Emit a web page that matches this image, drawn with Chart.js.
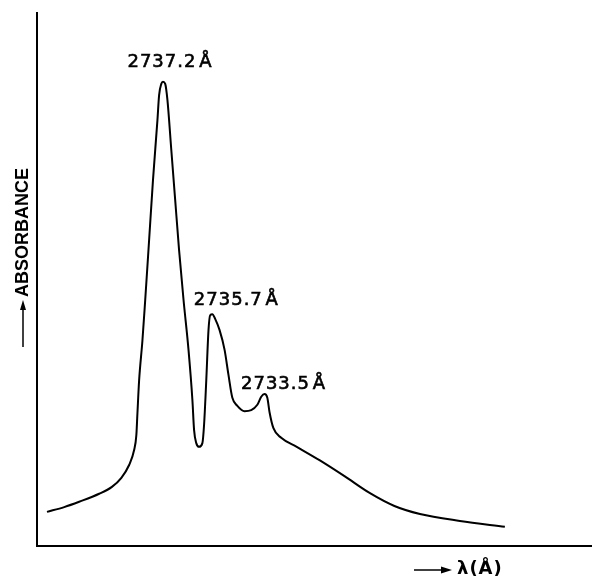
<!DOCTYPE html>
<html>
<head>
<meta charset="utf-8">
<script src="https://cdn.jsdelivr.net/npm/chart.js@4/dist/chart.umd.min.js"></script>
<style>
  html, body { margin: 0; padding: 0; background: #fff; }
  #spectrum { display: block; }
</style>
</head>
<body>
<canvas id="spectrum" width="592" height="579"></canvas>
<script>
// ── Data (arbitrary units, 0–100 on both axes) ──
const positions = [
  1.8, 4.9, 7.6, 11.2, 13.5, 15.2, 16.6, 17.5, 17.9, 18.1,
  18.4, 19.0, 19.5, 20.2, 20.9, 21.7, 22.0, 22.4, 22.7, 23.1,
  23.5, 24.2, 24.9, 25.6, 26.4, 27.3, 28.0, 28.3, 28.7, 29.2,
  29.8, 30.1, 30.5, 30.9, 31.2, 31.6, 32.1, 32.9, 33.8, 34.5,
  35.2, 36.1, 37.4, 38.6, 39.7, 40.4, 41.0, 41.5, 41.9, 42.6,
  44.0, 46.8, 50.9, 55.4, 60.0, 64.4, 69.0, 76.2, 84.3
];
const absorbance = [
  6.4, 7.3, 8.3, 9.8, 11.1, 12.8, 15.2, 18.0, 20.8, 25.0,
  31.1, 38.6, 46.2, 57.4, 68.7, 79.9, 84.6, 86.7, 87.1, 86.7,
  83.7, 74.3, 64.9, 55.5, 46.2, 36.8, 27.4, 21.8, 19.3, 18.6,
  19.3, 22.7, 31.1, 40.5, 43.3, 43.5, 42.6, 40.5, 36.8, 32.1,
  27.8, 26.3, 25.3, 25.5, 26.5, 28.0, 28.5, 27.8, 25.1, 22.1,
  20.3, 18.6, 16.1, 13.1, 9.9, 7.5, 6.0, 4.7, 3.6
];

// peak annotations
const peakLabels = ['2737.2\u200AÅ', '2735.7\u200AÅ', '2733.5\u200AÅ'];
const peakPositions = [22.7, 31.6, 41.0];
const peakValues = [87.1, 43.5, 28.5];

// ── Styles ──────────────────────────────────────────
const FONT = '"Liberation Sans", Arial, sans-serif';
const LABEL_FONT = '"DejaVu Sans", sans-serif';
const LABEL_OFFSETS = [[7, -19.5], [24, -14], [19, -9.5]];

// Peak labels + axis captions with arrows
const annotationPlugin = {
  id: 'annotations',
  afterDraw(chart) {
    const { ctx, scales: { x, y } } = chart;
    ctx.save();
    ctx.fillStyle = '#000';
    ctx.strokeStyle = '#000';

    // labels were hand-lettered, a touch heavier than regular type
    ctx.font = `18px ${LABEL_FONT}`;
    ctx.letterSpacing = '1px';
    ctx.textAlign = 'center';
    ctx.textBaseline = 'middle';
    ctx.lineWidth = 0.6;
    peakLabels.forEach((lbl, i) => {
      const px = x.getPixelForValue(peakPositions[i]) + LABEL_OFFSETS[i][0];
      const py = y.getPixelForValue(peakValues[i]) + LABEL_OFFSETS[i][1];
      ctx.fillText(lbl, px, py);
      ctx.strokeText(lbl, px, py);
    });

    // y caption: arrow + ABSORBANCE, rotated
    ctx.save();
    ctx.translate(23, 0);
    ctx.rotate(-Math.PI / 2);
    ctx.font = `bold 18px ${FONT}`;
    ctx.letterSpacing = '0px';
    ctx.textAlign = 'left';
    ctx.fillText('ABSORBANCE', -297, 0);
    ctx.lineWidth = 1.5;
    ctx.beginPath();
    ctx.moveTo(-347, 0);
    ctx.lineTo(-304, 0);
    ctx.stroke();
    ctx.beginPath();
    ctx.moveTo(-300, 0);
    ctx.lineTo(-310, -3);
    ctx.lineTo(-310, 3);
    ctx.closePath();
    ctx.fill();
    ctx.restore();

    // x caption: arrow + λ(Å)
    ctx.font = `bold 18px ${LABEL_FONT}`;
    ctx.letterSpacing = '1px';
    ctx.textAlign = 'left';
    ctx.fillText('λ(Å)', 457, 569);
    ctx.lineWidth = 1.5;
    ctx.beginPath();
    ctx.moveTo(414, 570);
    ctx.lineTo(448, 570);
    ctx.stroke();
    ctx.beginPath();
    ctx.moveTo(452, 570);
    ctx.lineTo(441, 566.5);
    ctx.lineTo(441, 573.5);
    ctx.closePath();
    ctx.fill();

    ctx.restore();
  },
};

// ── Chart ───────────────────────────────────────────
const ctx = document.getElementById('spectrum').getContext('2d');
new Chart(ctx, {
  type: 'line',
  data: {
    datasets: [{
      data: positions.map((p, i) => ({ x: p, y: absorbance[i] })),
      borderColor: '#000',
      borderWidth: 2,
      pointRadius: 0,
      fill: false,
      cubicInterpolationMode: 'monotone',
    }],
  },
  options: {
    responsive: false,
    animation: false,
    layout: { padding: { left: 37, top: 13, right: 0, bottom: 33 } },
    plugins: { legend: { display: false }, tooltip: { enabled: false } },
    scales: {
      x: {
        type: 'linear',
        min: 0,
        max: 100,
        grid: { display: false, drawTicks: false },
        ticks: { display: false },
        border: { display: true, color: '#000', width: 2 },
      },
      y: {
        min: 0,
        max: 100,
        grid: { display: false, drawTicks: false },
        ticks: { display: false },
        border: { display: true, color: '#000', width: 2 },
      },
    },
  },
  plugins: [annotationPlugin],
});
</script>
</body>
</html>
